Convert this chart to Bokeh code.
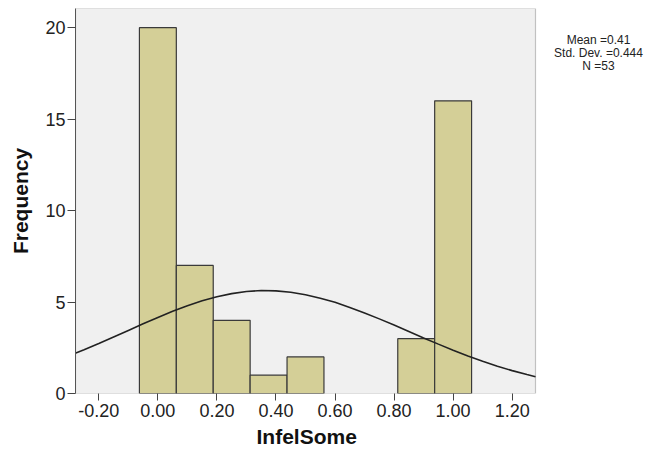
import math
from bokeh.plotting import figure
from bokeh.models import (Range1d, FixedTicker, NumeralTickFormatter, Label,
                          ColumnDataSource, BoxAnnotation, Title)
from bokeh.embed import file_html
from bokeh.resources import INLINE

# ---- data ----
bin_centers = [0.0, 0.125, 0.25, 0.375, 0.5, 0.625, 0.75, 0.875, 1.0]
counts = [20, 7, 4, 1, 2, 0, 0, 3, 16]
bin_width = 0.125

curve_x = [-0.28, -0.25, -0.20, -0.15, -0.10, -0.05, 0.00, 0.05, 0.10, 0.15, 0.20,
           0.25, 0.30, 0.35, 0.40, 0.45, 0.50, 0.55, 0.60, 0.65, 0.70, 0.75, 0.80,
           0.85, 0.90, 0.95, 1.00, 1.05, 1.10, 1.15, 1.20, 1.25, 1.279]
curve_y = [2.20, 2.39, 2.73, 3.09, 3.45, 3.81, 4.16, 4.50, 4.80, 5.07, 5.29,
           5.46, 5.58, 5.63, 5.61, 5.54, 5.40, 5.21, 4.99, 4.70, 4.40, 4.08, 3.74,
           3.39, 3.04, 2.70, 2.37, 2.05, 1.76, 1.49, 1.25, 1.04, 0.92]

x_ticks = [-0.2, 0.0, 0.2, 0.4, 0.6, 0.8, 1.0, 1.2]
y_ticks = [0, 5, 10, 15, 20]
x_label = "InfelSome"
y_label = "Frequency"
stats_lines = ["Mean =0.41", "Std. Dev. =0.444", "N =53"]

# plotting area limits (data units)
x_lo, x_hi = -0.279, 1.279
y_lo, y_hi = 0.0, 21.05

FONT = "Liberation Sans"

W, H = 649, 456
LEFT, TOP, BOTTOM = 75, 8, 63
frame_w = W - LEFT
px_per_unit = (535 - LEFT) / (x_hi - x_lo)
x_end = x_lo + frame_w / px_per_unit

p = figure(width=W, height=H, output_backend="svg", toolbar_location=None,
           x_range=Range1d(x_lo, x_end), y_range=Range1d(y_lo, y_hi))
p.min_border_left = LEFT
p.min_border_right = 0
p.min_border_top = TOP
p.min_border_bottom = BOTTOM

p.background_fill_color = "white"
p.border_fill_color = "white"
p.outline_line_color = None
p.grid.visible = False

# gray plotting area with border
p.add_layout(BoxAnnotation(left=x_lo, right=x_hi, bottom=y_lo, top=y_hi,
                           fill_color="#f0f0f0", fill_alpha=1.0,
                           line_color="#444444", line_width=1.2, level="underlay"))

# bars
bx = [c for c, n in zip(bin_centers, counts) if n > 0]
bt = [n for n in counts if n > 0]
src = ColumnDataSource(dict(x=bx, top=bt))
p.vbar(x="x", top="top", width=bin_width, bottom=0, source=src,
       fill_color="#d4cf97", line_color="#3a3a3a", line_width=1.2)

# normal curve
p.line(curve_x, curve_y, line_color="#222222", line_width=1.6)

# axes
for ax in (p.xaxis, p.yaxis):
    ax.major_tick_in = 0
    ax.minor_tick_line_color = None
    ax.major_label_text_font = FONT
    ax.major_label_text_font_size = "18px"
    ax.major_label_text_color = "#222222"
    ax.major_tick_line_color = "#444444"
    ax.axis_label_text_font = FONT
    ax.axis_label_text_font_size = "21px"
    ax.axis_label_text_font_style = "bold"
    ax.axis_label_text_color = "#111111"

p.xaxis.axis_line_color = None
p.yaxis.axis_line_color = "#555555"
p.xaxis.ticker = FixedTicker(ticks=x_ticks)
p.xaxis.formatter = NumeralTickFormatter(format="0.00")
p.xaxis.major_tick_out = 7
p.xaxis.major_label_standoff = 3

p.yaxis.ticker = FixedTicker(ticks=y_ticks)
p.yaxis.major_tick_out = 8
p.yaxis.major_label_standoff = 2
p.yaxis.axis_label = y_label
p.yaxis.axis_label_standoff = 10

# x-axis title, centred under the gray plotting area
p.add_layout(Title(text=x_label, align="left", offset=256 - LEFT, standoff=6,
                   text_font=FONT, text_font_size="21px", text_font_style="bold",
                   text_color="#111111"), "below")

# stats text (screen units relative to the plot frame)
for i, s in enumerate(stats_lines):
    p.add_layout(Label(x=598 - LEFT, y=(H - BOTTOM) - (39 + 13 * i),
                       x_units="screen", y_units="screen", text=s,
                       text_font=FONT, text_font_size="12px", text_align="center",
                       text_baseline="middle", text_color="#222222"))

open("out.html", "w").write(file_html(p, INLINE))
